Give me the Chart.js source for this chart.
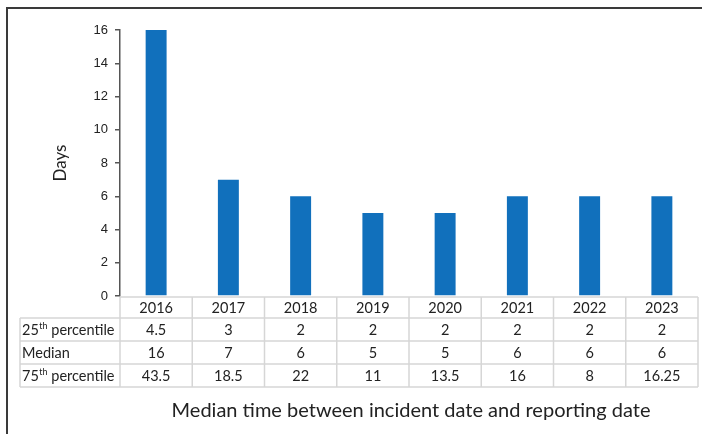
<!DOCTYPE html>
<html>
<head>
<meta charset="utf-8">
<script src="https://cdn.jsdelivr.net/npm/chart.js@4.4.1/dist/chart.umd.min.js"></script>
<style>
  html, body { margin: 0; padding: 0; background: #fff; }
  #wrap { width: 702px; height: 434px; position: relative; }
</style>
</head>
<body>
<div id="wrap"><canvas id="c" width="702" height="434"></canvas></div>
<script>
// Reporting delay by year (days)
const years = ['2016', '2017', '2018', '2019', '2020', '2021', '2022', '2023'];
const p25 = ['4.5', '3', '2', '2', '2', '2', '2', '2'];
const median = [16, 7, 6, 5, 5, 6, 6, 6];
const p75 = ['43.5', '18.5', '22', '11', '13.5', '16', '8', '16.25'];
const yTicks = [0, 2, 4, 6, 8, 10, 12, 14, 16];

const tableRows = [
  { label: ['25', 'th', ' percentile'], values: p25 },
  { label: ['Median', '', ''], values: median.map(String) },
  { label: ['75', 'th', ' percentile'], values: p75 }
];

const TABLE_FONT = '14.5px Lato, "Open Sans", sans-serif';

const tablePlugin = {
  id: 'dataTable',
  afterDraw(chart) {
    const ctx = chart.ctx;
    const area = chart.chartArea;
    const xs = chart.scales.x;
    const colW = (area.right - area.left) / years.length;
    const top = area.bottom + 1;
    const headerH = 21;
    const rowH = 23;
    const labelLeft = 20;
    const bottom = top + headerH + rowH * tableRows.length;

    ctx.save();
    // outer frame
    ctx.strokeStyle = '#3a3a3a';
    ctx.lineWidth = 2;
    ctx.beginPath();
    ctx.moveTo(7, 440);
    ctx.lineTo(7, 8);
    ctx.lineTo(710, 8);
    ctx.stroke();

    // table grid
    ctx.strokeStyle = '#d6d6d6';
    ctx.lineWidth = 1.5;
    ctx.beginPath();
    ctx.moveTo(area.left, top);
    ctx.lineTo(area.right, top);
    for (let r = 0; r <= tableRows.length; r++) {
      const y = top + headerH + r * rowH;
      ctx.moveTo(labelLeft, y);
      ctx.lineTo(area.right, y);
    }
    for (let i = 0; i <= years.length; i++) {
      const x = area.left + i * colW;
      ctx.moveTo(x, top);
      ctx.lineTo(x, bottom);
    }
    ctx.moveTo(labelLeft, top + headerH);
    ctx.lineTo(labelLeft, bottom);
    ctx.stroke();

    // year header
    ctx.fillStyle = '#222';
    ctx.font = TABLE_FONT;
    ctx.textAlign = 'center';
    ctx.textBaseline = 'middle';
    years.forEach((yr, i) => {
      ctx.fillText(yr, xs.getPixelForValue(i), top + headerH / 2 + 1);
    });

    // body rows
    tableRows.forEach((row, r) => {
      const yMid = top + headerH + r * rowH + rowH / 2 + 1;
      ctx.textAlign = 'center';
      ctx.font = TABLE_FONT;
      row.values.forEach((v, i) => {
        ctx.fillText(v, xs.getPixelForValue(i), yMid);
      });
      ctx.textAlign = 'left';
      let x = labelLeft + 2;
      ctx.font = TABLE_FONT;
      ctx.fillText(row.label[0], x, yMid);
      x += ctx.measureText(row.label[0]).width;
      if (row.label[1]) {
        ctx.font = '9px Lato, "Open Sans", sans-serif';
        ctx.fillText(row.label[1], x + 0.5, yMid - 4);
        x += ctx.measureText(row.label[1]).width + 0.5;
        ctx.font = TABLE_FONT;
        ctx.fillText(row.label[2], x, yMid);
      }
    });

    // axis title
    ctx.save();
    ctx.translate(61, area.top + (area.bottom - area.top) / 2);
    ctx.rotate(-Math.PI / 2);
    ctx.textAlign = 'center';
    ctx.textBaseline = 'middle';
    ctx.font = '17px Lato, "Open Sans", sans-serif';
    ctx.fillStyle = '#222';
    ctx.fillText('Days', 0, 0);
    ctx.restore();

    // caption
    ctx.textAlign = 'center';
    ctx.textBaseline = 'middle';
    ctx.font = '20px Lato, "Open Sans", sans-serif';
    ctx.fillStyle = '#222';
    ctx.fillText('Median time between incident date and reporting date', 411, 411);
    ctx.restore();
  }
};

new Chart(document.getElementById('c'), {
  type: 'bar',
  data: {
    labels: years,
    datasets: [{
      data: median,
      backgroundColor: '#1170bc',
      borderWidth: 0,
      barPercentage: 0.29,
      categoryPercentage: 1
    }]
  },
  options: {
    responsive: false,
    animation: false,
    layout: { padding: { left: 0, right: 4, top: 30, bottom: 138 } },
    plugins: { legend: { display: false }, tooltip: { enabled: false } },
    scales: {
      x: { display: false, offset: true },
      y: {
        min: 0,
        max: 16,
        afterFit(scale) { scale.width = 120; },
        afterBuildTicks(scale) { scale.ticks = yTicks.map(v => ({ value: v })); },
        grid: {
          drawOnChartArea: false,
          drawTicks: true,
          tickLength: 5,
          color: '#555',
          lineWidth: 1.5
        },
        border: { display: true, color: '#555', width: 1.5 },
        ticks: {
          padding: 7,
          color: '#222',
          font: { family: 'Liberation Sans, Arial, sans-serif', size: 13 }
        }
      }
    }
  },
  plugins: [tablePlugin]
});
</script>
</body>
</html>
